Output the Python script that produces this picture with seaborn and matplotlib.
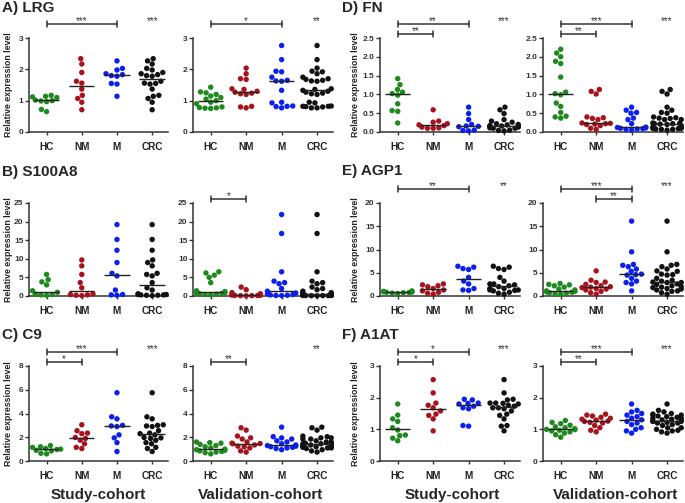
import warnings
warnings.filterwarnings("ignore")
import numpy as np
import pandas as pd
import matplotlib
matplotlib.use("Agg")
import matplotlib.pyplot as plt
import seaborn as sns

# ---------------- data ----------------
groups = ["HC", "NM", "M", "CRC"]
colors = ["#1c8a1c", "#a8121c", "#0b1ff0", "#111111"]

# LRG
lrg_s_hc = [1.17, 1.14, 1.12, 1.10, 1.02, 1.00, 0.99, 0.97, 0.72, 0.65]
lrg_s_nm = [2.34, 2.17, 1.90, 1.62, 1.56, 1.37, 1.17, 1.07, 0.95, 0.71]
lrg_s_m = [2.27, 2.03, 1.98, 1.86, 1.83, 1.80, 1.78, 1.55, 1.53, 1.14]
lrg_s_crc = [2.34, 2.17, 1.90, 1.62, 1.56, 1.37, 1.17, 1.07, 0.95, 0.71,
             2.27, 2.03, 1.98, 1.86, 1.83, 1.80, 1.78, 1.55, 1.53, 1.14]
lrg_v_hc = [1.43, 1.28, 1.25, 1.20, 1.15, 1.10, 1.05, 1.00, 0.95, 0.90, 0.80, 0.78, 0.77, 0.76, 0.75]
lrg_v_nm = [2.04, 1.86, 1.70, 1.68, 1.38, 1.36, 1.30, 1.27, 1.24, 1.22, 1.20, 0.82, 0.80, 0.77]
lrg_v_m = [2.76, 2.31, 1.94, 1.92, 1.75, 1.65, 1.63, 1.62, 1.33, 0.95, 0.93, 0.83, 0.82, 0.81, 0.77]
lrg_v_crc = [2.04, 1.86, 1.70, 1.68, 1.38, 1.36, 1.30, 1.27, 1.24, 1.22, 1.20, 0.82, 0.80, 0.77,
             2.76, 2.31, 1.94, 1.92, 1.75, 1.65, 1.63, 1.62, 1.33, 0.95, 0.93, 0.83, 0.82, 0.81, 0.77]

# S100A8
s100_s_hc = [5.8, 4.4, 3.8, 3.0, 1.4, 1.0, 0.5, 0.4, 0.3, 0.2]
s100_s_nm = [9.7, 8.1, 5.8, 3.6, 2.2, 0.6, 0.4, 0.3, 0.2, 0.1]
s100_s_m = [19.2, 15.2, 12.3, 9.0, 6.1, 5.4, 1.6, 0.4, 0.3, 0.2]
s100_s_crc = [9.7, 8.1, 5.8, 3.6, 2.2, 0.6, 0.4, 0.3, 0.2, 0.1,
              19.2, 15.2, 12.3, 9.0, 6.1, 5.4, 1.6, 0.4, 0.3, 0.2]
s100_v_hc = [6.5, 6.2, 5.6, 5.0, 3.6, 1.4, 1.2, 1.0, 0.9, 0.8, 0.7, 0.6, 0.5, 0.4, 0.3]
s100_v_nm = [2.4, 1.7, 0.9, 0.6, 0.5, 0.4, 0.35, 0.3, 0.25, 0.2, 0.15, 0.12, 0.1, 0.08, 0.05]
s100_v_m = [21.9, 16.8, 6.5, 4.0, 3.6, 3.3, 2.0, 1.3, 0.8, 0.6, 0.4, 0.3, 0.2, 0.15, 0.1]
s100_v_crc = [2.4, 1.7, 0.9, 0.6, 0.5, 0.4, 0.35, 0.3, 0.25, 0.2, 0.15, 0.12, 0.1, 0.08, 0.05,
              21.9, 16.8, 6.5, 4.0, 3.6, 3.3, 2.0, 1.3, 0.8, 0.6, 0.4, 0.3, 0.2, 0.15, 0.1]

# C9
c9_s_hc = [1.30, 1.20, 1.15, 1.05, 1.00, 0.97, 0.90, 0.85, 0.65, 0.60]
c9_s_nm = [3.05, 2.55, 2.35, 2.30, 1.98, 1.90, 1.75, 1.45, 1.15, 1.05]
c9_s_m = [5.75, 3.72, 3.55, 3.00, 2.95, 2.90, 2.20, 1.95, 1.55, 0.80]
c9_s_crc = [3.05, 2.55, 2.35, 2.30, 1.98, 1.90, 1.75, 1.45, 1.15, 1.05,
            5.75, 3.72, 3.55, 3.00, 2.95, 2.90, 2.20, 1.95, 1.55, 0.80]
c9_v_hc = [1.6, 1.55, 1.5, 1.4, 1.3, 1.2, 1.1, 1.0, 0.95, 0.9, 0.85, 0.8, 0.75, 0.7, 0.6]
c9_v_nm = [2.8, 2.6, 2.1, 1.95, 1.85, 1.6, 1.5, 1.47, 1.45, 1.35, 1.25, 1.2, 1.1, 0.85, 0.75]
c9_v_m = [2.85, 2.05, 1.95, 1.85, 1.7, 1.6, 1.45, 1.35, 1.3, 1.25, 1.2, 1.15, 1.1, 1.05, 0.95]
c9_v_crc = [2.8, 2.6, 2.1, 1.95, 1.85, 1.6, 1.5, 1.47, 1.45, 1.35, 1.25, 1.2, 1.1, 0.85, 0.75,
            2.85, 2.05, 1.95, 1.85, 1.7, 1.6, 1.45, 1.35, 1.3, 1.25, 1.2, 1.15, 1.1, 1.05, 0.95]

# FN
fn_s_hc = [1.42, 1.26, 1.13, 1.06, 1.02, 0.98, 0.75, 0.57, 0.55, 0.24]
fn_s_nm = [0.59, 0.29, 0.26, 0.22, 0.19, 0.17, 0.13, 0.11, 0.10, 0.10]
fn_s_m = [0.66, 0.49, 0.33, 0.20, 0.16, 0.15, 0.14, 0.05, 0.04, 0.03]
fn_s_crc = [0.59, 0.29, 0.26, 0.22, 0.19, 0.17, 0.13, 0.11, 0.10, 0.10,
            0.66, 0.49, 0.33, 0.20, 0.16, 0.15, 0.14, 0.05, 0.04, 0.03]
fn_v_hc = [2.20, 2.10, 2.00, 1.88, 1.82, 1.46, 1.06, 1.02, 0.99, 0.77, 0.68, 0.52, 0.42, 0.40, 0.37]
fn_v_nm = [1.13, 1.08, 1.01, 0.40, 0.38, 0.36, 0.33, 0.24, 0.23, 0.22, 0.21, 0.20, 0.17, 0.10, 0.07]
fn_v_m = [0.66, 0.58, 0.52, 0.50, 0.37, 0.33, 0.22, 0.13, 0.12, 0.11, 0.10, 0.09, 0.08, 0.07, 0.05]
fn_v_crc = [1.13, 1.08, 1.01, 0.40, 0.38, 0.36, 0.33, 0.24, 0.23, 0.22, 0.21, 0.20, 0.17, 0.10, 0.07,
            0.66, 0.58, 0.52, 0.50, 0.37, 0.33, 0.22, 0.13, 0.12, 0.11, 0.10, 0.09, 0.08, 0.07, 0.05]

# AGP1
agp_s_hc = [1.1, 1.0, 0.95, 0.9, 0.85, 0.8, 0.75, 0.7, 0.6, 0.5]
agp_s_nm = [2.6, 2.4, 2.2, 2.0, 1.6, 1.3, 1.1, 0.8, 0.6, 0.4]
agp_s_m = [6.4, 6.2, 5.9, 5.7, 4.0, 3.2, 2.6, 1.6, 1.3, 1.2]
agp_s_crc = [2.6, 2.4, 2.2, 2.0, 1.6, 1.3, 1.1, 0.8, 0.6, 0.4,
             6.4, 6.2, 5.9, 5.7, 4.0, 3.2, 2.6, 1.6, 1.3, 1.2]
agp_v_hc = [2.7, 2.5, 2.4, 2.2, 1.9, 1.5, 1.3, 1.1, 1.0, 0.9, 0.8, 0.7, 0.6, 0.5, 0.4]
agp_v_nm = [5.4, 3.4, 3.0, 2.9, 2.5, 2.2, 2.0, 1.9, 1.8, 1.6, 1.5, 1.3, 1.0, 0.7, 0.4]
agp_v_m = [16.1, 9.5, 6.8, 6.6, 6.3, 5.8, 5.3, 4.7, 4.6, 4.5, 3.8, 3.2, 2.9, 2.6, 1.1]
agp_v_crc = [5.4, 3.4, 3.0, 2.9, 2.5, 2.2, 2.0, 1.9, 1.8, 1.6, 1.5, 1.3, 1.0, 0.7, 0.4,
             16.1, 9.5, 6.8, 6.6, 6.3, 5.8, 5.3, 4.7, 4.6, 4.5, 3.8, 3.2, 2.9, 2.6, 1.1]

# A1AT
a1at_s_hc = [1.80, 1.45, 1.33, 1.25, 1.05, 0.98, 0.82, 0.80, 0.72, 0.64]
a1at_s_nm = [2.57, 2.15, 1.83, 1.76, 1.68, 1.58, 1.48, 1.44, 1.33, 0.95]
a1at_s_m = [1.95, 1.93, 1.83, 1.82, 1.80, 1.73, 1.68, 1.65, 1.12, 1.10]
a1at_s_crc = [2.57, 2.15, 1.83, 1.76, 1.68, 1.58, 1.48, 1.44, 1.33, 0.95,
              1.95, 1.93, 1.83, 1.82, 1.80, 1.73, 1.68, 1.65, 1.12, 1.10]
a1at_v_hc = [1.28, 1.22, 1.18, 1.13, 1.08, 1.05, 1.02, 1.00, 0.99, 0.97, 0.95, 0.92, 0.88, 0.83, 0.75]
a1at_v_nm = [1.48, 1.45, 1.42, 1.38, 1.35, 1.32, 1.29, 1.26, 1.25, 1.22, 1.20, 1.12, 1.05, 0.97, 0.92]
a1at_v_m = [1.80, 1.60, 1.55, 1.50, 1.45, 1.40, 1.35, 1.30, 1.25, 1.20, 1.15, 1.05, 1.00, 0.95, 0.88]
a1at_v_crc = [1.48, 1.45, 1.42, 1.38, 1.35, 1.32, 1.29, 1.26, 1.25, 1.22, 1.20, 1.12, 1.05, 0.97, 0.92,
              1.80, 1.60, 1.55, 1.50, 1.45, 1.40, 1.35, 1.30, 1.25, 1.20, 1.15, 1.05, 1.00, 0.95, 0.88]

titles = ["A) LRG", "B) S100A8", "C) C9", "D) FN", "E) AGP1", "F) A1AT"]
ticks_lrg = [0, 1, 2, 3]
ticks_s100 = [0, 5, 10, 15, 20, 25]
ticks_c9 = [0, 2, 4, 6, 8]
ticks_fn = [0.0, 0.5, 1.0, 1.5, 2.0, 2.5]
ticks_agp = [0, 5, 10, 15, 20]
ticks_a1at = [0, 1, 2, 3]
cohort_labels = ["Study-cohort", "Validation-cohort"]

# ---------------- style ----------------
sns.set_style("ticks")
plt.rcParams['font.family'] = ['Liberation Sans', 'DejaVu Sans']
LC = "#333333"

W, H = 685, 503
fig = plt.figure(figsize=(W / 100, H / 100), dpi=100)

cols = [(29, 168), (193, 333), (380, 520), (543, 683)]
rows = [(38, 132), (203, 296), (366, 461)]


def draw_panel(c, r, lists, yticks, fmt, brackets, crc_star):
    l, rr = cols[c]
    t, b = rows[r]
    hpx = b - t
    ax = fig.add_axes([l / W, 1 - b / H, (rr - l) / W, hpx / H])
    df = pd.DataFrame({
        "group": np.repeat(groups, [len(d) for d in lists]),
        "value": np.concatenate(lists),
    })
    sns.swarmplot(data=df, x="group", y="value", hue="group", order=groups,
                  hue_order=groups, palette=colors, size=3.9, linewidth=0,
                  legend=False, ax=ax, zorder=3)
    for coll in ax.collections:
        coll.set_clip_on(False)
    for i, d in enumerate(lists):
        ax.hlines(np.median(d), i - 0.36, i + 0.36, color="#222222", lw=1.0, zorder=5)
    ax.set_xlim(-0.5, 3.45)
    ax.set_ylim(0, yticks[-1])
    ax.set_yticks(yticks)
    ax.set_yticklabels([fmt.format(v) for v in yticks], fontsize=6, fontweight="bold", color=LC)
    ax.set_xticks(range(4))
    ax.set_xticklabels(groups, fontsize=7.2, fontweight="bold", color="#222222")
    ax.set_xlabel("")
    ax.set_ylabel("")
    ax.tick_params(axis="y", length=3, width=1, pad=1, color=LC)
    ax.tick_params(axis="x", length=2, width=1, pad=5, color=LC)
    sns.despine(ax=ax)
    for s in ("left", "bottom"):
        ax.spines[s].set_linewidth(1.1)
        ax.spines[s].set_color(LC)
    tr = ax.get_xaxis_transform()
    for (i, j, up, lab) in brackets:
        off = 14 if up else 4
        y = 1 + off / hpx
        cap = 3 / hpx
        ax.plot([i, j], [y, y], transform=tr, color=LC, lw=1.1, clip_on=False)
        for xx in (i, j):
            ax.plot([xx, xx], [y - cap, y + cap], transform=tr, color=LC, lw=1.1, clip_on=False)
        ax.text((i + j) / 2, y, lab, transform=tr, ha="center", va="baseline",
                fontsize=7, color=LC, clip_on=False)
    if crc_star:
        ax.text(3, 1 + 14 / hpx, crc_star, transform=tr, ha="center", va="baseline",
                fontsize=7, color=LC, clip_on=False)
    return ax


# Row 1
draw_panel(0, 0, [lrg_s_hc, lrg_s_nm, lrg_s_m, lrg_s_crc], ticks_lrg, "{:d}",
           [(0, 2, True, "***")], "***")
draw_panel(1, 0, [lrg_v_hc, lrg_v_nm, lrg_v_m, lrg_v_crc], ticks_lrg, "{:d}",
           [(0, 2, True, "*")], "**")
draw_panel(2, 0, [fn_s_hc, fn_s_nm, fn_s_m, fn_s_crc], ticks_fn, "{:.1f}",
           [(0, 2, True, "**"), (0, 1, False, "**")], "***")
draw_panel(3, 0, [fn_v_hc, fn_v_nm, fn_v_m, fn_v_crc], ticks_fn, "{:.1f}",
           [(0, 2, True, "***"), (0, 1, False, "**")], "***")
# Row 2
draw_panel(0, 1, [s100_s_hc, s100_s_nm, s100_s_m, s100_s_crc], ticks_s100, "{:d}",
           [], None)
draw_panel(1, 1, [s100_v_hc, s100_v_nm, s100_v_m, s100_v_crc], ticks_s100, "{:d}",
           [(0, 1, False, "*")], None)
draw_panel(2, 1, [agp_s_hc, agp_s_nm, agp_s_m, agp_s_crc], ticks_agp, "{:d}",
           [(0, 2, True, "**")], "**")
draw_panel(3, 1, [agp_v_hc, agp_v_nm, agp_v_m, agp_v_crc], ticks_agp, "{:d}",
           [(0, 2, True, "***"), (1, 2, False, "**")], "***")
# Row 3
draw_panel(0, 2, [c9_s_hc, c9_s_nm, c9_s_m, c9_s_crc], ticks_c9, "{:d}",
           [(0, 2, True, "***"), (0, 1, False, "*")], "***")
draw_panel(1, 2, [c9_v_hc, c9_v_nm, c9_v_m, c9_v_crc], ticks_c9, "{:d}",
           [(0, 1, False, "**")], "**")
draw_panel(2, 2, [a1at_s_hc, a1at_s_nm, a1at_s_m, a1at_s_crc], ticks_a1at, "{:d}",
           [(0, 2, True, "*"), (0, 1, False, "*")], "***")
draw_panel(3, 2, [a1at_v_hc, a1at_v_nm, a1at_v_m, a1at_v_crc], ticks_a1at, "{:d}",
           [(0, 2, True, "***"), (0, 1, False, "**")], "***")

# panel titles
title_pos = [(2, 8), (2, 172), (2, 335), (342, 8), (342, 171), (342, 335)]
for txt, (x, y) in zip(titles, title_pos):
    fig.text(x / W, 1 - y / H, txt, fontsize=11, fontweight="bold", ha="left", va="center")

# y labels
for x in (8.5, 356):
    for r in rows:
        yc = (r[0] + r[1]) / 2
        fig.text(x / W, 1 - yc / H, "Relative expression level", rotation=90,
                 fontsize=6.3, fontweight="bold", ha="center", va="center", color="#222222")

# cohort labels
for x, lab in zip([98, 261, 452, 616], cohort_labels * 2):
    fig.text(x / W, 1 - 495 / H, lab, fontsize=11, fontweight="bold", ha="center", va="center")

fig.savefig("out.png", dpi=100)
